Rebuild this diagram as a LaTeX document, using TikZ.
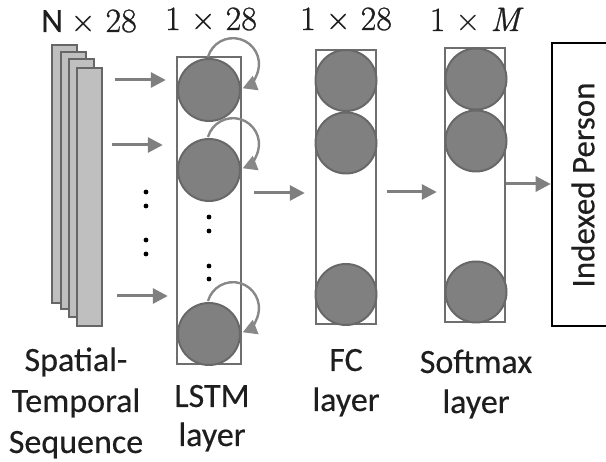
\documentclass[tikz,border=0pt]{standalone}
\usepackage{fontspec}
\setmainfont[FakeBold=0.35]{Carlito}
\newfontfamily\serifnum[FakeBold=0.8]{Latin Modern Roman}
\usetikzlibrary{arrows.meta,calc}
\definecolor{sheetfill}{HTML}{BFBFBF}
\definecolor{sheetline}{HTML}{666666}
\definecolor{boxline}{HTML}{6E6E6E}
\definecolor{cellfill}{HTML}{808080}
\definecolor{cellline}{HTML}{686868}
\definecolor{arrowgray}{HTML}{7F7F7F}
\definecolor{loopgray}{HTML}{888888}
\definecolor{txt}{HTML}{1E1E1E}
\begin{document}
\begin{tikzpicture}[x=1pt,y=-1pt,
  sheet/.style={draw=sheetline,fill=sheetfill,line width=2.4pt,rectangle,inner sep=0pt,minimum width=25pt},
  layerbox/.style={draw=boxline,line width=2.4pt,rectangle,inner sep=0pt},
  cell/.style={draw=cellline,fill=cellfill,line width=2pt,circle,inner sep=0pt,outer sep=0pt},
  arr/.style={draw=arrowgray,line width=3pt,-{Triangle[length=15pt,width=15pt]}},
  selfloop/.style={draw=loopgray,line width=2.4pt,-{Triangle[length=14pt,width=15pt]}},
  toplbl/.style={text=txt,anchor=base,inner sep=0pt,font=\fontsize{34}{40}\selectfont},
  botlbl/.style={text=txt,anchor=base,inner sep=0pt,font=\fontsize{34}{41}\selectfont},
  dotmark/.style={fill=black}
]
\clip (0,0) rectangle (606,462);
\fill[white] (0,0) rectangle (606,462);

% stacked input sheets
\node[sheet,minimum height=258pt] (s1) at (64.5,174) {};
\node[sheet,minimum height=257pt] (s2) at (73.5,180.5) {};
\node[sheet,minimum height=258pt] (s3) at (81.5,188) {};
\node[sheet,minimum height=258pt] (s4) at (89.5,197) {};

% layer boxes
\node[layerbox,minimum width=64pt,minimum height=307pt] (lstm) at (209,210.5) {};
\node[layerbox,minimum width=60pt,minimum height=274pt] (fc) at (346,187) {};
\node[layerbox,minimum width=60pt,minimum height=274pt] (sm) at (475,185) {};
\node[draw=black,line width=2.6pt,rectangle,inner sep=0pt,minimum width=88pt,minimum height=283pt] (ip) at (596,184.5) {};
\node[text=txt,rotate=90,inner sep=0pt,font=\fontsize{33}{39}\selectfont] (iptext) at (583,185) {Indexed Person};

% cells
\node[cell,minimum size=62pt] (l1) at (209,90) {};
\node[cell,minimum size=62pt] (l2) at (209,170) {};
\node[cell,minimum size=62pt] (l3) at (209,334) {};
\node[cell,minimum size=61pt] (f1) at (346,80.5) {};
\node[cell,minimum size=61pt] (f2) at (346,143) {};
\node[cell,minimum size=61pt] (f3) at (346,294.5) {};
\node[cell,minimum size=61pt] (m1) at (476,79) {};
\node[cell,minimum size=61pt] (m2) at (476,141) {};
\node[cell,minimum size=61pt] (m3) at (476,292) {};

% self loops
\foreach \c in {l1,l2,l3}{
  \draw[selfloop] ([shift={(-1,-33)}]\c.center) arc[start angle=-164,end angle=68,radius=26];
}

% input arrows
\draw[arr,shorten <=12pt,shorten >=10pt] (s4.east |- 0,80) -- (lstm.west |- 0,80);
\draw[arr,shorten <=9pt,shorten >=13pt] (s4.east |- 0,145) -- (lstm.west |- 0,145);
\draw[arr,shorten <=14pt,shorten >=8pt] (s4.east |- 0,296) -- (lstm.west |- 0,296);
\draw[arr,shorten <=12pt,shorten >=10pt] (lstm.east |- 0,193) -- (fc.west |- 0,193);
\draw[arr,shorten <=10pt,shorten >=7pt] (fc.east |- 0,192) -- (sm.west |- 0,192);
\draw[arr] (sm.east |- 0,184) -- (ip.west |- 0,184);

% ellipsis dots
\foreach \yy in {192,206,240,254}{\fill[dotmark] (146,\yy) circle (2.4);}
\foreach \yy in {217,231,266,279}{\fill[dotmark] (209,\yy) circle (2.4);}

% top labels
\node[toplbl] (t1) at (89,32) {N {\serifnum × 28}};
\node[toplbl] (t2) at (211,30) {\serifnum 1 × 28};
\node[toplbl] (t3) at (346,30) {\serifnum 1 × 28};
\node[toplbl] (t4) at (475,31) {\serifnum 1 × \itshape M};

% bottom labels
\node[botlbl] (b1a) at (76,371) {Spatial-};
\node[botlbl] (b1b) at (76,412) {Temporal};
\node[botlbl] (b1c) at (76,453) {Sequence};
\node[botlbl] (b2a) at (212,407) {LSTM};
\node[botlbl] (b2b) at (212,446) {layer};
\node[botlbl] (b3a) at (346,371) {FC};
\node[botlbl] (b3b) at (346,411) {layer};
\node[botlbl] (b4a) at (476,373) {Softmax};
\node[botlbl] (b4b) at (476,413) {layer};
\end{tikzpicture}
\end{document}
